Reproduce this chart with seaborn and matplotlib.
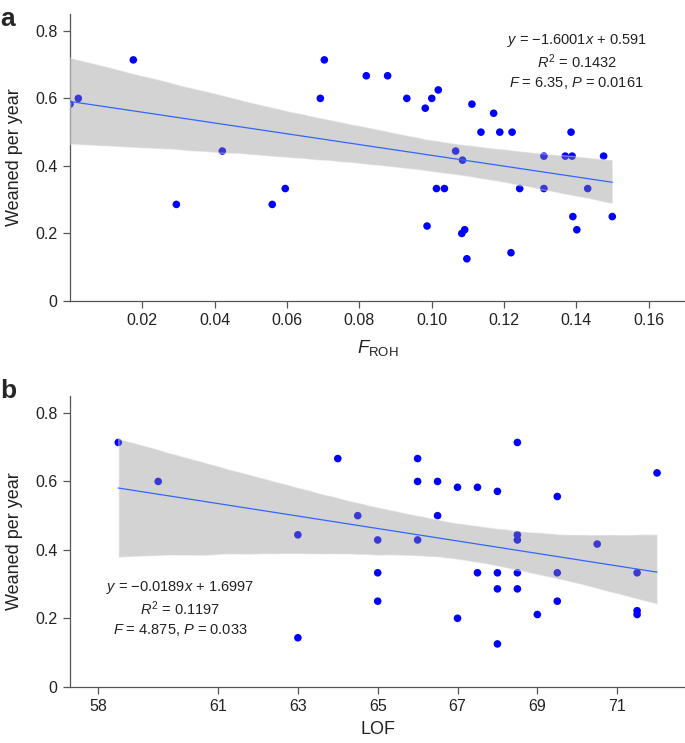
import matplotlib
matplotlib.use("Agg")
import matplotlib.pyplot as plt
import pandas as pd
import seaborn as sns

# ---- panel a: F_ROH vs weaned per year ----
froh = [0.0000, 0.0023, 0.0175, 0.0294, 0.0421, 0.0559, 0.0595, 0.0692, 0.0703,
        0.0819, 0.0878, 0.0931, 0.0982, 0.1000, 0.1018, 0.1111, 0.1171, 0.1136,
        0.1188, 0.1222, 0.1385, 0.1066, 0.1085, 0.1310, 0.1369, 0.1388, 0.1475,
        0.1013, 0.1035, 0.1243, 0.1310, 0.1431, 0.1390, 0.1499, 0.1401, 0.0987,
        0.1083, 0.1091, 0.1097, 0.1219]
weaned_a = [0.583, 0.600, 0.714, 0.286, 0.444, 0.286, 0.333, 0.600, 0.714,
            0.667, 0.667, 0.600, 0.571, 0.600, 0.625, 0.583, 0.556, 0.500,
            0.500, 0.500, 0.500, 0.444, 0.417, 0.429, 0.429, 0.429, 0.429,
            0.333, 0.333, 0.333, 0.333, 0.333, 0.250, 0.250, 0.211, 0.222,
            0.200, 0.211, 0.125, 0.143]

# ---- panel b: LOF vs weaned per year ----
lof = [58.5, 59.5, 63.0, 63.0, 64.0, 64.5, 65.0, 65.0, 65.0, 66.0, 66.0, 66.0,
       66.5, 66.5, 67.0, 67.0, 67.5, 67.5, 68.0, 68.0, 68.0, 68.0,
       68.5, 68.5, 68.5, 68.5, 68.5, 69.0, 69.5, 69.5, 69.5, 70.5,
       71.5, 71.5, 71.5, 72.0]
weaned_b = [0.714, 0.600, 0.444, 0.143, 0.667, 0.500, 0.429, 0.333, 0.250, 0.667, 0.600, 0.429,
            0.600, 0.500, 0.583, 0.200, 0.583, 0.333, 0.571, 0.333, 0.286, 0.125,
            0.714, 0.444, 0.429, 0.333, 0.286, 0.211, 0.556, 0.333, 0.250, 0.417,
            0.333, 0.222, 0.211, 0.625]

y_ticks = [0, 0.2, 0.4, 0.6, 0.8]
y_tick_labels = ["0", "0.2", "0.4", "0.6", "0.8"]
xa_ticks = [0.02, 0.04, 0.06, 0.08, 0.10, 0.12, 0.14, 0.16]
xb_ticks = [58, 61, 63, 65, 67, 69, 71]

eq_a = [r"$\it{y}$ = −1.6001$\it{x}$ + 0.591", r"$\it{R}^2$ = 0.1432",
        r"$\it{F}$ = 6.35, $\it{P}$ = 0.0161"]
eq_b = [r"$\it{y}$ = −0.0189$\it{x}$ + 1.6997", r"$\it{R}^2$ = 0.1197",
        r"$\it{F}$ = 4.875, $\it{P}$ = 0.033"]

sns.set_style("ticks")
plt.rcParams["font.family"] = ["Liberation Sans", "DejaVu Sans"]
plt.rcParams["mathtext.fontset"] = "custom"
plt.rcParams["mathtext.rm"] = "Liberation Sans"
plt.rcParams["mathtext.it"] = "Liberation Sans:italic"
plt.rcParams["mathtext.bf"] = "Liberation Sans:bold"

AX_COL = "#555555"
TXT_COL = "#222222"
PT_COL = "#0000FF"
LINE_COL = "#3366FF"


def panel(ax, df, x, xlim, xticks, xfmt, eq, eq_x, eq_y):
    sns.scatterplot(data=df, x=x, y="weaned", color=PT_COL, s=30,
                    edgecolor="none", ax=ax, zorder=2)
    sns.regplot(data=df, x=x, y="weaned", scatter=False, ci=95, n_boot=2000,
                seed=1, color=LINE_COL, line_kws=dict(lw=0.9, zorder=4), ax=ax)
    # grey confidence band drawn over the points, like the original
    band = ax.collections[-1]
    band.set_facecolor("#939393")
    band.set_alpha(0.4)
    band.set_zorder(3)
    ax.set_xlim(*xlim)
    ax.set_ylim(0, 0.85)
    ax.set_xticks(xticks)
    ax.set_xticklabels([xfmt(t) for t in xticks])
    ax.set_yticks(y_ticks)
    ax.set_yticklabels(y_tick_labels)
    sns.despine(ax=ax)
    for s in ("left", "bottom"):
        ax.spines[s].set_color(AX_COL)
        ax.spines[s].set_linewidth(0.9)
    ax.tick_params(colors=AX_COL, labelcolor=TXT_COL, labelsize=11.5,
                   length=5, width=0.9, pad=4)
    ax.set_ylabel("Weaned per year", fontsize=13, color=TXT_COL, labelpad=9)
    for txt, yy in zip(eq, eq_y):
        ax.text(eq_x, yy, txt, transform=ax.transAxes, ha="center", va="center",
                fontsize=10.5, color=TXT_COL)


fig = plt.figure(figsize=(6.85, 7.43), dpi=100)
ax_a = fig.add_axes([0.1022, 0.5949, 0.8978, 0.3863])
ax_b = fig.add_axes([0.1022, 0.0758, 0.8978, 0.3913])

df_a = pd.DataFrame({"froh": froh, "weaned": weaned_a})
df_b = pd.DataFrame({"lof": lof, "weaned": weaned_b})

panel(ax_a, df_a, "froh", (0, 0.170), xa_ticks, lambda t: f"{t:.2f}",
      eq_a, 0.824, [0.906, 0.833, 0.760])
ax_a.set_xlabel(r"$\it{F}_{\rm ROH}$", fontsize=13.5, color=TXT_COL, labelpad=7)

panel(ax_b, df_b, "lof", (57.29, 72.7), xb_ticks, lambda t: f"{t:d}",
      eq_b, 0.179, [0.340, 0.267, 0.195])
ax_b.set_xlabel("LOF", fontsize=13, color=TXT_COL, labelpad=5)

fig.text(0.0, 0.99, "a", fontsize=19, fontweight="bold", va="top", ha="left")
fig.text(0.0, 0.49, "b", fontsize=19, fontweight="bold", va="top", ha="left")

fig.savefig("out.png", dpi=100)
